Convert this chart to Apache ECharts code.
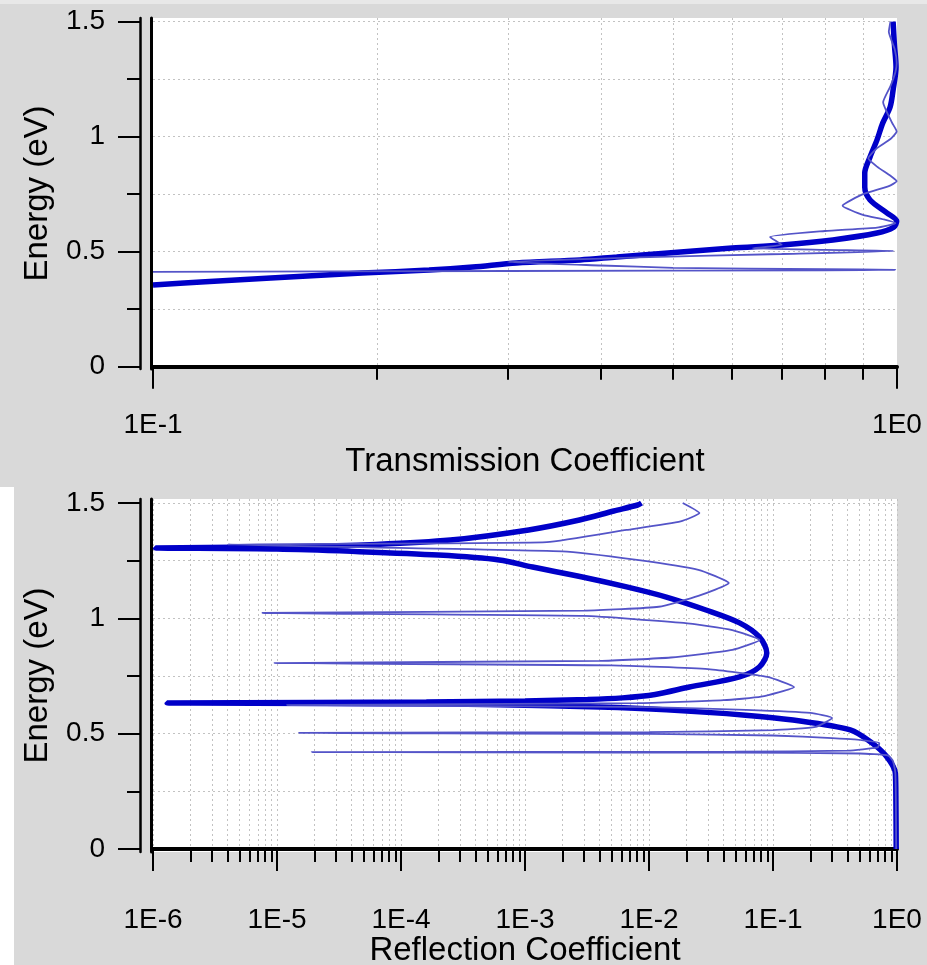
<!DOCTYPE html>
<html>
<head>
<meta charset="utf-8">
<title>Transmission and Reflection Coefficient</title>
<script src="https://cdn.jsdelivr.net/npm/echarts@6/dist/echarts.min.js"></script>
<style>
    html, body { margin: 0; padding: 0; background: #fff; }
    #wrap { position: relative; width: 927px; height: 965px; overflow: hidden; }
    .panel { position: absolute; background: #d9d9d9; }
    #chart { position: absolute; left: 0; top: 0; width: 927px; height: 965px; }
</style>
</head>
<body>
<div id="wrap">
    <div class="panel" style="left:0;top:0;width:927px;height:487px;"></div>
    <div class="panel" style="left:0;top:0;width:927px;height:4px;background:#e8e8e8;"></div>
    <div class="panel" style="left:14px;top:487px;width:913px;height:478px;"></div>
    <div id="chart"></div>
</div>
<script>
// energy axis, shared by both panels (eV)
const energyTicks = [0, 0.5, 1, 1.5];
const energyMinorTicks = [0.25, 0.75, 1.25];

// transmission axis (log)
const transTicks = [0.1, 1];
const transTickLabels = ['1E-1', '1E0'];
const transMinorTicks = [0.2, 0.3, 0.4, 0.5, 0.6, 0.7, 0.8, 0.9];

// reflection axis (log)
const reflTicks = [1e-6, 1e-5, 1e-4, 1e-3, 1e-2, 1e-1, 1];
const reflTickLabels = ['1E-6', '1E-5', '1E-4', '1E-3', '1E-2', '1E-1', '1E0'];
const reflMinorTicks = [];
reflTicks.slice(0, -1).forEach(d => {
    for (let m = 2; m <= 9; m++) reflMinorTicks.push(+(m * d).toPrecision(3));
});

// [coefficient, energy] pairs
const transThick = [
    [0.1, 0.355], [0.116, 0.368], [0.144, 0.386], [0.191, 0.407], [0.235, 0.42],
    [0.269, 0.433], [0.308, 0.451], [0.375, 0.464], [0.42, 0.477], [0.6, 0.516],
    [0.7, 0.529], [0.82, 0.551], [0.94, 0.581], [0.99, 0.607], [0.999, 0.633],
    [0.97, 0.668], [0.92, 0.725], [0.905, 0.781], [0.905, 0.842], [0.92, 0.912],
    [0.94, 0.986], [0.957, 1.06], [0.979, 1.129], [0.988, 1.203], [0.997, 1.303],
    [0.992, 1.4], [0.988, 1.5]
];
const transThin = [
    [0.1, 0.412], [0.3, 0.416], [0.8, 0.419], [0.995, 0.421], [0.8, 0.424],
    [0.5, 0.43], [0.4, 0.44], [0.3, 0.455], [0.45, 0.475], [0.7, 0.49],
    [0.99, 0.503], [0.8, 0.508], [0.64, 0.515], [0.7, 0.53], [0.675, 0.564],
    [0.8, 0.59], [0.94, 0.605], [0.995, 0.624], [0.96, 0.64], [0.9, 0.66],
    [0.845, 0.7], [0.9, 0.75], [0.975, 0.785], [0.999, 0.806], [0.98, 0.83],
    [0.94, 0.87], [0.915, 0.906], [0.94, 0.95], [0.98, 0.99], [0.999, 1.023],
    [0.985, 1.06], [0.958, 1.15], [0.98, 1.22], [0.995, 1.28], [0.999, 1.32],
    [0.993, 1.38], [0.975, 1.456], [0.98, 1.5]
];
const reflThick = [
    [0.985, 0], [0.98, 0.2], [0.97, 0.329], [0.83, 0.399], [0.63, 0.459],
    [0.42, 0.516], [0.145, 0.559], [0.06, 0.58], [0.0138, 0.603], [0.004, 0.615],
    [6.3e-4, 0.625], [1e-4, 0.63], [1.3e-6, 0.633], [1.6e-4, 0.637], [1e-3, 0.642],
    [3.2e-3, 0.648], [6.1e-3, 0.655], [0.0112, 0.67], [0.0212, 0.702], [0.0537, 0.746],
    [0.0776, 0.789], [0.0891, 0.85], [0.0776, 0.919], [0.0537, 0.98], [0.0288, 1.036],
    [0.0138, 1.092], [6.6e-3, 1.136], [2.9e-3, 1.179], [1.15e-3, 1.222], [6.2e-4, 1.253],
    [2e-4, 1.274], [4e-5, 1.29], [1e-5, 1.3], [1.05e-6, 1.305], [1.3e-5, 1.31],
    [6.3e-5, 1.32], [2.5e-4, 1.339], [1.07e-3, 1.383], [2.75e-3, 1.426], [5.2e-3, 1.465],
    [8.1e-3, 1.491], [8.7e-3, 1.5]
];
const reflThin = [
    [0.985, 0], [0.98, 0.2], [0.97, 0.33], [0.93, 0.38], [0.85, 0.405],
    [0.5, 0.414], [0.05, 0.418], [1.9e-5, 0.42], [0.05, 0.422], [0.4, 0.426],
    [0.7, 0.44], [0.72, 0.459], [0.45, 0.475], [0.3, 0.481], [0.1, 0.492],
    [0.01, 0.499], [1.5e-5, 0.503], [0.01, 0.507], [0.1, 0.515], [0.22, 0.529],
    [0.3, 0.568], [0.2, 0.59], [0.06, 0.603], [0.01, 0.615], [1.2e-5, 0.624],
    [0.008, 0.632], [0.04, 0.645], [0.08, 0.66], [0.148, 0.702], [0.09, 0.746],
    [0.03, 0.78], [0.005, 0.796], [9.5e-6, 0.806], [0.004, 0.815], [0.015, 0.83],
    [0.047, 0.863], [0.078, 0.906], [0.047, 0.949], [0.019, 0.98], [0.003, 1.01],
    [7.6e-6, 1.023], [0.003, 1.033], [0.012, 1.05], [0.025, 1.097], [0.044, 1.153],
    [0.025, 1.21], [0.008, 1.253], [0.002, 1.29], [4e-6, 1.32], [0.0015, 1.33],
    [0.0066, 1.383], [0.018, 1.42], [0.0255, 1.456], [0.0187, 1.5]
];

const FONT = 'Liberation Sans';
const dotted = { color: '#c2c2c2', type: [2, 3], width: 1 };
const text = size => ({ color: '#000', fontFamily: FONT, fontSize: size });

function logLabel(ticks, labels) {
    return v => {
        let i = ticks.findIndex(t => Math.abs(Math.log10(t) - Math.log10(v)) < 1e-6);
        return i < 0 ? '' : labels[i];
    };
}

// three x axes per panel: labelled decades, minor ticks, top border
function xAxes(gridIndex, min, max, ticks, labels, minor, name, offset, labelMargin, nameGap, decadeLines) {
    return [
        {
            gridIndex, type: 'log', min, max, position: 'bottom', offset,
            axisLine: { show: true, lineStyle: { color: '#000', width: 2.5 } },
            axisTick: { show: true, customValues: ticks, length: 22, lineStyle: { color: '#000', width: 2 } },
            axisLabel: { show: true, customValues: ticks, margin: labelMargin, formatter: logLabel(ticks, labels), ...text(28) },
            splitLine: { show: decadeLines, lineStyle: dotted },
            name, nameLocation: 'middle', nameGap, nameTextStyle: text(33)
        },
        {
            gridIndex, type: 'log', min, max, position: 'bottom', offset,
            axisLine: { show: false },
            axisTick: { show: true, customValues: minor, length: 13, lineStyle: { color: '#000', width: 2 } },
            axisLabel: { show: false },
            splitLine: { show: true, lineStyle: dotted }
        },
        {
            gridIndex, type: 'log', min, max, position: 'top', offset: 1,
            axisLine: { show: true, lineStyle: { color: '#000', width: 4 } },
            axisTick: { show: false }, axisLabel: { show: false }, splitLine: { show: false }
        }
    ];
}

// three y axes per panel: labelled energy, minor ticks, left border
function yAxes(gridIndex, min, max) {
    return [
        {
            gridIndex, type: 'value', min, max, position: 'left', offset: 13,
            axisLine: { show: true, lineStyle: { color: '#000', width: 2.5 } },
            axisTick: { show: true, customValues: energyTicks, length: 22, lineStyle: { color: '#000', width: 2 } },
            axisLabel: { show: true, customValues: energyTicks, margin: 35, formatter: v => String(v), ...text(28) },
            splitLine: { show: true, lineStyle: dotted },
            name: 'Energy (eV)', nameLocation: 'middle', nameGap: 86, nameTextStyle: text(33)
        },
        {
            gridIndex, type: 'value', min, max, position: 'left', offset: 13,
            axisLine: { show: false },
            axisTick: { show: true, customValues: energyMinorTicks, length: 13, lineStyle: { color: '#000', width: 2 } },
            axisLabel: { show: false },
            splitLine: { show: true, lineStyle: dotted }
        },
        {
            gridIndex, type: 'value', min, max, position: 'left', offset: 2,
            axisLine: { show: true, lineStyle: { color: '#000', width: 3 } },
            axisTick: { show: false }, axisLabel: { show: false }, splitLine: { show: false }
        }
    ];
}

function curve(data, xIdx, yIdx, thick) {
    return {
        type: 'line', data, xAxisIndex: xIdx, yAxisIndex: yIdx,
        symbol: 'none', smooth: thick ? 0.3 : 0.15, clip: true, silent: true,
        lineStyle: thick ? { color: '#0000c8', width: 5.5 } : { color: '#5454c8', width: 1.8 },
        z: thick ? 3 : 4
    };
}

let myChart = echarts.init(document.getElementById('chart'), null, { renderer: 'canvas' });
let option = {
    animation: false,
    backgroundColor: 'transparent',
    grid: [
        { left: 153, top: 18, width: 744, height: 351, show: true, backgroundColor: '#fff', borderWidth: 0, containLabel: false, outerBoundsMode: 'none' },
        { left: 153, top: 499, width: 744, height: 353, show: true, backgroundColor: '#fff', borderWidth: 0, containLabel: false, outerBoundsMode: 'none' }
    ],
    xAxis: [
        ...xAxes(0, 0.1, 1, transTicks, transTickLabels, transMinorTicks, 'Transmission Coefficient', 13, 29, 63, false),
        ...xAxes(1, 1e-6, 1, reflTicks, reflTickLabels, reflMinorTicks, 'Reflection Coefficient', 11, 43, 67, true)
    ],
    yAxis: [
        ...yAxes(0, -0.01, 1.516),
        ...yAxes(1, -0.013, 1.517)
    ],
    series: [
        curve(transThick, 0, 0, true),
        curve(transThin, 0, 0, false),
        curve(reflThick, 3, 3, true),
        curve(reflThin, 3, 3, false)
    ]
};
myChart.setOption(option);
</script>
</body>
</html>
